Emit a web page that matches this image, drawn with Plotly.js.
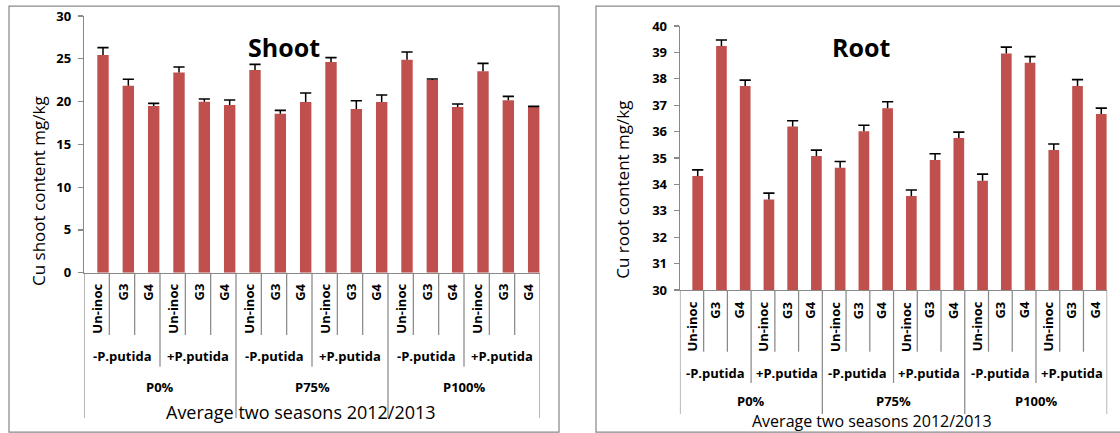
<!DOCTYPE html>
<html><head><meta charset="utf-8">
<script src="https://cdn.plot.ly/plotly-3.0.1.min.js"></script>
<style>html,body{margin:0;padding:0;background:#fff}#chart{width:1120px;height:433px}</style>
</head><body><div id="chart"></div>
<script>
// ---- data ----
const itemLabels = ['Un-inoc', 'G3', 'G4'];
const groupLabels = ['-P.putida', '+P.putida'];
const levelLabels = ['P0%', 'P75%', 'P100%'];
const xAxisTitle = 'Average two seasons 2012/2013';

const shootMean = [25.44, 21.86, 19.48, 23.41, 19.98, 19.60, 23.69, 18.58, 19.95, 24.62, 19.13, 19.95, 24.89, 22.52, 19.36, 23.53, 20.14, 19.40];
const shootErr  = [0.86, 0.74, 0.31, 0.63, 0.32, 0.58, 0.66, 0.39, 1.05, 0.51, 0.97, 0.82, 0.90, 0.11, 0.35, 0.93, 0.47, 0.04];
const rootMean  = [34.32, 39.24, 37.73, 33.43, 36.19, 35.08, 34.63, 36.01, 36.88, 33.56, 34.92, 35.76, 34.14, 38.96, 38.61, 35.30, 37.73, 36.67];
const rootErr   = [0.23, 0.23, 0.22, 0.24, 0.22, 0.22, 0.24, 0.23, 0.25, 0.23, 0.24, 0.22, 0.25, 0.24, 0.23, 0.23, 0.24, 0.22];

// ---- layout helpers ----
const W = 1120, H = 433;
const px = x => x / W;
const py = y => 1 - y / H;
const BAR = '#C0504D', LINE = '#898989';
const FONT = '"Open Sans", sans-serif';

const traces = [], shapes = [], annotations = [];

function panel(sfx, mean, err, g) {
  const xa = 'x' + sfx, ya = 'y' + sfx;
  const idx = mean.map((_, i) => i);
  traces.push({
    type: 'bar', x: idx, y: mean, xaxis: xa, yaxis: ya, width: 0.45,
    marker: {color: BAR, line: {width: 0}},
    error_y: {type: 'data', symmetric: false, array: err, arrayminus: err.map(() => 0),
              width: 0, thickness: 1.5, color: '#000'},
    hoverinfo: 'y', showlegend: false
  });
  traces.push({
    type: 'scatter', mode: 'markers', x: idx, y: mean.map((v, i) => v + err[i]),
    xaxis: xa, yaxis: ya,
    marker: {symbol: 'line-ew', size: 8, color: '#000', line: {width: 1.6, color: '#000'}},
    hoverinfo: 'skip', showlegend: false
  });
  // dividers
  for (let k = 0; k <= mean.length; k++) {
    const bottom = (k % 6 === 0) ? g.levelBottom : (k % 3 === 0 ? g.groupBottom : g.itemBottom);
    shapes.push({type: 'line', xref: xa, yref: 'paper', x0: k - 0.75, x1: k - 0.75,
                 y0: py(g.axisY), y1: py(bottom), line: {color: LINE, width: 1.25}});
  }
  const bold = {family: FONT, size: 13, color: '#000', weight: 'bold'};
  idx.forEach(i => {
    annotations.push({xref: xa, yref: 'paper', x: i - 0.25, y: py(g.itemTop), text: itemLabels[i % 3],
      textangle: -90, xanchor: 'center', yanchor: 'top', showarrow: false, font: bold, borderpad: 0});
  });
  for (let j = 0; j < 6; j++) {
    annotations.push({xref: xa, yref: 'paper', x: 0.75 + 3 * j, y: py(g.groupY), text: groupLabels[j % 2],
      xanchor: 'center', yanchor: 'middle', showarrow: false, font: bold});
  }
  for (let j = 0; j < 3; j++) {
    annotations.push({xref: xa, yref: 'paper', x: 2.25 + 6 * j, y: py(g.levelY), text: levelLabels[j],
      xanchor: 'center', yanchor: 'middle', showarrow: false, font: bold, borderpad: 0});
  }
  annotations.push({xref: 'paper', yref: 'paper', x: px(g.xTitleX), y: py(g.xTitleY), text: xAxisTitle,
    xanchor: 'center', yanchor: 'middle', showarrow: false, borderpad: 0,
    font: {family: FONT, size: g.xTitleSize, color: '#000'}});
  annotations.push({xref: 'paper', yref: 'paper', x: px(g.yTitleX), y: py(g.yTitleY), text: g.yTitle,
    textangle: -90, xanchor: 'center', yanchor: 'middle', showarrow: false, font: {family: FONT, size: 17, color: '#000'}});
  annotations.push({xref: 'paper', yref: 'paper', x: px(g.titleX), y: py(g.titleY), text: g.title,
    xanchor: 'center', yanchor: 'middle', showarrow: false, font: {family: FONT, size: 25, color: '#000', weight: 'bold'}});
  // panel frame
  shapes.push({type: 'rect', xref: 'paper', yref: 'paper', x0: px(g.frame[0]), x1: px(g.frame[1]),
    y0: py(g.frame[3]), y1: py(g.frame[2]), line: {color: LINE, width: 1.25}, layer: 'below'});
}

panel('', shootMean, shootErr, {
  axisY: 272.7, itemTop: 283, itemBottom: 335, groupY: 356, groupBottom: 366.7,
  levelY: 387.3, levelBottom: 418, xTitleX: 301, xTitleY: 412, xTitleSize: 18,
  yTitleX: 38, yTitleY: 191, yTitle: 'Cu shoot content mg/kg',
  titleX: 283.5, titleY: 46.7, title: 'Shoot', frame: [9, 559, 6, 432]
});
panel('2', rootMean, rootErr, {
  axisY: 290, itemTop: 300.7, itemBottom: 351.7, groupY: 373.3, groupBottom: 383,
  levelY: 401, levelBottom: 414, xTitleX: 871.5, xTitleY: 421, xTitleSize: 16,
  yTitleX: 621.7, yTitleY: 190, yTitle: 'Cu root content mg/kg',
  titleX: 861, titleY: 46.7, title: 'Root', frame: [596, 1125, 6, 432]
});

const tickFont = {family: FONT, size: 13, color: '#000', weight: 'bold'};
const xCommon = {range: [-0.75, 17.25], showline: true, linecolor: LINE, linewidth: 1.25,
  showticklabels: false, ticks: '', showgrid: false, zeroline: false, fixedrange: true};
const yCommon = {ticks: 'outside', ticklen: 5, tickcolor: LINE, tickwidth: 1.25, showline: true,
  linecolor: LINE, linewidth: 1.25, showgrid: false, zeroline: false, tickfont: tickFont,
  ticklabelstandoff: 4, fixedrange: true};

const layout = {
  width: W, height: H, margin: {l: 0, r: 0, t: 0, b: 0},
  paper_bgcolor: '#fff', plot_bgcolor: 'rgba(0,0,0,0)',
  font: {family: FONT},
  showlegend: false, barmode: 'overlay',
  xaxis: Object.assign({}, xCommon, {domain: [px(84), px(540)], anchor: 'y'}),
  yaxis: Object.assign({}, yCommon, {domain: [py(272.7), py(16)], range: [0, 30], dtick: 5, tick0: 0, anchor: 'x'}),
  xaxis2: Object.assign({}, xCommon, {domain: [px(679.9), px(1107.2)], anchor: 'y2'}),
  yaxis2: Object.assign({}, yCommon, {domain: [py(290), py(26)], range: [30, 40], dtick: 1, tick0: 30, anchor: 'x2'}),
  shapes: shapes, annotations: annotations
};

Plotly.newPlot('chart', traces, layout, {displayModeBar: false, staticPlot: true});
</script>
</body></html>
